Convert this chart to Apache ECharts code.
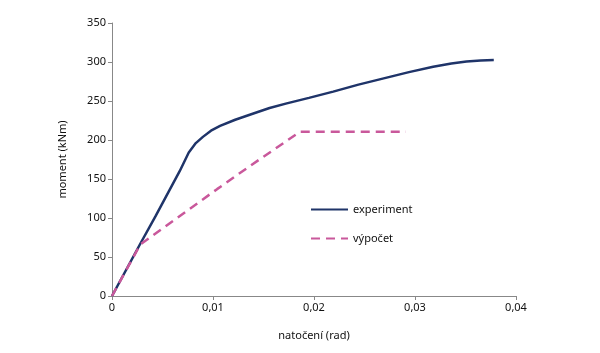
<!DOCTYPE html>
<html>
<head>
<meta charset="utf-8">
<script src="https://cdn.jsdelivr.net/npm/echarts@6/dist/echarts.min.js"></script>
<style>
  html, body { margin: 0; padding: 0; background: #fff; }
  #myChart { width: 600px; height: 353px; }
</style>
</head>
<body>
<div id="myChart"></div>
<script>
// experiment - measured curve [natoceni (rad), moment (kNm)]
var experiment = [
  [0, 0], [0.0028, 67], [0.0043, 102], [0.0067, 160], [0.0076, 184],
  [0.0083, 196], [0.0090, 204], [0.0098, 212], [0.0107, 218], [0.0122, 226],
  [0.0140, 234], [0.0156, 241], [0.0173, 247], [0.0195, 254], [0.0219, 262],
  [0.0244, 271], [0.0269, 279], [0.0294, 287], [0.0318, 294], [0.0336, 298],
  [0.0351, 300.5], [0.0365, 302], [0.0378, 302.5]
];
// vypocet - calculated curve
var vypocet = [
  [0, 0], [0.0028, 66], [0.0104, 137], [0.0137, 167], [0.0186, 210.5], [0.0291, 210.5]
];
var xTicks = [0, 0.01, 0.02, 0.03, 0.04];
var yTicks = [0, 50, 100, 150, 200, 250, 300, 350];

var myChart = echarts.init(document.getElementById('myChart'));
var font = 'Noto Sans';
var option = {
  animation: false,
  grid: { left: 112, right: 84, top: 23, bottom: 57 },
  legend: {
    orient: 'vertical',
    left: 305,
    top: 199,
    itemWidth: 37,
    itemHeight: 10,
    itemGap: 18,
    itemStyle: { opacity: 0 },
    textStyle: { fontFamily: font, fontSize: 11, color: '#111' },
    data: ['experiment', 'výpočet']
  },
  xAxis: {
    type: 'value',
    min: xTicks[0],
    max: xTicks[xTicks.length - 1],
    interval: 0.01,
    name: 'natočení (rad)',
    nameLocation: 'middle',
    nameGap: 34,
    nameTextStyle: { fontFamily: font, fontSize: 11, color: '#111' },
    axisLine: { lineStyle: { color: '#888', width: 1 } },
    axisTick: { show: true, length: 4, lineStyle: { color: '#888' } },
    axisLabel: {
      fontFamily: font, fontSize: 11, color: '#111', margin: 6,
      formatter: function (v) { return String(v).replace('.', ','); }
    },
    splitLine: { show: false }
  },
  yAxis: {
    type: 'value',
    min: yTicks[0],
    max: yTicks[yTicks.length - 1],
    interval: 50,
    name: 'moment (kNm)',
    nameLocation: 'middle',
    nameGap: 44,
    nameTextStyle: { fontFamily: font, fontSize: 11, color: '#111' },
    axisLine: { show: true, lineStyle: { color: '#888', width: 1 } },
    axisTick: { show: true, length: 4, lineStyle: { color: '#888' } },
    axisLabel: { fontFamily: font, fontSize: 11, color: '#111', margin: 6 },
    splitLine: { show: false }
  },
  series: [
    {
      name: 'experiment',
      type: 'line',
      data: experiment,
      symbol: 'none',
      itemStyle: { color: '#1f3469' },
      lineStyle: { color: '#1f3469', width: 2.5 }
    },
    {
      name: 'výpočet',
      type: 'line',
      data: vypocet,
      symbol: 'none',
      itemStyle: { color: '#c9589b' },
      lineStyle: { color: '#c9589b', width: 2.5, type: [9, 6] }
    }
  ]
};
window.onresize = myChart.resize;
myChart.setOption(option);
</script>
</body>
</html>
